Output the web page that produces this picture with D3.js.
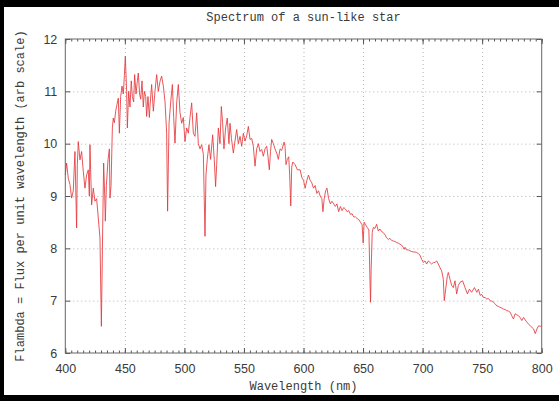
<html>
<head>
<title>Spectrum of a sun-like star</title>
<style>
  body { margin: 0; background: #fff; }
  .tick text { font: 12.5px "Liberation Sans", Arial, sans-serif; fill: #3a3a3a; }
  .lbl { font: 12px "Liberation Mono", "DejaVu Sans Mono", monospace; fill: #3a3a3a; }
  .grid line { stroke: #b4b4b4; stroke-dasharray: 1,3; }
  .grid .domain, .ax .domain { display: none; }
  .ax line { stroke: #555; }
</style>
<script src="https://cdn.jsdelivr.net/npm/d3@7"></script>
</head>
<body>
<div id="chart"></div>
<script>
// wavelength (nm) and flux
var wave = [
  400, 401.1, 402.5, 403.9, 405.3, 406.7, 408.1, 409.5, 410.1, 410.9, 412.3, 413.7, 415.1, 416.5, 417.9,
  419.3, 420.2, 420.7, 422.1, 423.5, 424.9, 426.3, 427.7, 429.1, 430.3, 431.4, 432.2, 433.1, 433.6, 434.5,
  435.9, 437.0, 437.5, 438.4, 439.5, 440.3, 441.2, 442.3, 443.4, 444.5, 445.4, 446.5, 447.6, 448.7, 449.6,
  450.4, 451.5, 452.1, 453.2, 454.3, 455.4, 456.3, 457.4, 458.2, 459.4, 460.5, 461.3, 462.4, 463.3, 464.4,
  465.5, 466.4, 467.5, 468.3, 469.4, 470.6,
  471.1, 472.5, 473.9, 475.3, 476.7, 478.1, 479.5, 480.9, 482.3, 483.7, 485.1, 485.9, 487.1, 488.5, 489.9,
  491.0, 492.1, 493.5, 494.9, 496.3, 497.7, 499.1, 500.5, 501.9, 503.3, 504.7, 506.1, 507.5, 508.9, 510.3,
  511.7, 513.1, 514.5, 515.9, 517.3, 518.1, 519.2, 520.6, 522.0, 523.7, 525.1, 526.2, 527.1, 528.5, 529.9,
  531.0, 532.1, 533.2, 534.6, 536.0, 537.4,
  538.3, 539.5, 541.1, 542.5, 543.9, 545.3, 546.7, 548.1, 549.5, 550.9, 552.3, 553.7, 555.1, 556.5, 557.9,
  559.3, 560.7, 562.1, 563.5, 564.9, 566.3, 567.7, 569.1, 570.2, 571.3, 572.3, 573.3, 574.7, 576.1, 577.5,
  578.9, 580.3,
  581.7, 583.7, 584.5, 585.3, 586.4, 587.6, 588.4, 589.3, 590.1, 591.0, 592.9, 594.9, 597.2, 598.6, 600.0,
  601.4, 602.8, 604.2, 605.6, 607.0, 608.4, 609.8, 611.2, 612.6, 614.0, 615.4, 616.3, 617.4, 618.6, 619.7,
  621.1, 622.5, 623.9, 625.3, 626.7, 628.1, 629.5, 631.0, 632.4, 633.8, 635.2, 636.6, 638.0, 639.4, 640.8,
  642.2, 643.6, 645.0, 646.4, 647.8, 649.2, 650.1, 650.9, 652.1, 653.5, 654.9, 655.7, 656.3, 656.8, 657.7,
  658.6, 660.0, 661.4, 662.8, 664.2, 665.6, 667.0, 668.4, 669.8, 671.2, 672.6, 674.0, 675.4, 676.8, 678.2,
  679.6, 681.0, 682.4, 683.8, 684.5, 685.2, 686.6, 688.0, 689.4, 690.8, 692.2, 693.6, 695.0, 696.4, 697.8,
  699.2, 700.6, 702.0, 703.4, 704.8, 706.2, 707.6, 709.0, 710.4, 711.8, 713.2, 714.6, 716.0, 717.4, 718.2,
  719.4, 720.8, 721.6, 723.0, 724.4, 725.8, 727.2, 728.6, 730.0, 731.4, 733.6, 735.6, 737.6, 739.3, 741.2,
  743.5, 745.5, 746.9, 748.3, 749.7, 751.1, 752.5, 753.9, 755.3, 756.7, 758.1, 759.5, 760.9, 762.3, 763.7,
  765.1, 766.5, 767.9, 769.3, 770.7, 772.1, 773.5, 774.9, 776.3, 777.7, 779.1, 780.5, 781.9, 783.3, 784.8,
  786.2, 787.6, 789.0, 790.4, 791.8, 793.2, 794.6, 796.0, 797.4, 798.8, 800
];
var flux = [
  9.40, 9.63, 9.34, 9.22, 8.96, 9.10, 9.85, 8.39, 9.60, 10.04, 9.69, 9.85, 9.47, 9.15, 9.40,
  9.50, 9.00, 9.98, 8.83, 9.15, 8.90, 8.95, 8.58, 8.20, 6.51, 8.40, 9.63, 9.00, 8.52, 9.20,
  9.70, 9.90, 8.96, 9.20, 10.30, 10.49, 10.40, 10.62, 10.75, 10.87, 10.20, 10.90, 11.10, 10.95, 11.30,
  11.67, 11.00, 10.30, 11.00, 10.70, 11.20, 10.90, 10.80, 11.32, 10.95, 11.20, 11.35, 10.95, 10.85, 11.20,
  10.70, 11.00, 10.90, 10.52, 10.90, 10.50,
  10.71, 11.13, 10.62, 11.00, 11.32, 11.00, 11.19, 11.29, 11.10, 10.81, 10.20, 8.71, 10.39, 10.80, 11.13,
  10.50, 10.01, 10.78, 11.13, 10.60, 10.39, 10.50, 10.04, 10.30, 10.20, 10.50, 10.78, 10.20, 10.14, 10.59,
  10.00, 9.90, 9.98, 9.80, 8.23, 9.40, 9.70, 9.98, 9.70, 10.17, 9.69, 9.18, 9.60, 10.30, 10.00,
  10.71, 10.40, 9.90, 10.30, 10.49, 10.00,
  10.39, 10.10, 9.82, 10.05, 10.27, 10.00, 10.14, 9.95, 10.20, 10.05, 10.15, 10.33, 10.08, 10.10, 9.95,
  9.57, 9.90, 10.00, 9.85, 9.89, 9.76, 9.90, 9.95, 9.75, 9.50, 9.85, 10.08, 10.00, 9.90, 9.82,
  9.70, 9.90,
  9.87, 10.03, 9.95, 9.60, 9.70, 9.75, 9.40, 8.81, 9.55, 9.65, 9.60, 9.50, 9.50, 9.35, 9.30,
  9.15, 9.30, 9.40, 9.30, 9.25, 9.15, 9.20, 9.05, 9.10, 9.00, 8.95, 8.70, 8.95, 9.10, 9.15,
  8.95, 8.85, 8.90, 8.85, 8.80, 8.85, 8.70, 8.80, 8.72, 8.78, 8.75, 8.70, 8.72, 8.65, 8.66,
  8.60, 8.60, 8.57, 8.55, 8.50, 8.45, 8.10, 8.50, 8.45, 8.40, 8.35, 7.50, 6.97, 7.60, 8.30,
  8.40, 8.38, 8.46, 8.33, 8.37, 8.32, 8.30, 8.26, 8.20, 8.17, 8.19, 8.15, 8.14, 8.13, 8.11,
  8.10, 8.08, 8.06, 8.02, 7.98, 8.02, 7.97, 7.97, 7.95, 7.94, 7.93, 7.93, 7.92, 7.90, 7.87,
  7.79, 7.73, 7.76, 7.70, 7.76, 7.73, 7.70, 7.73, 7.73, 7.76, 7.70, 7.63, 7.57, 7.41, 7.00,
  7.22, 7.48, 7.54, 7.41, 7.29, 7.25, 7.38, 7.13, 7.29, 7.35, 7.38, 7.25, 7.13, 7.22, 7.16,
  7.25, 7.16, 7.22, 7.10, 7.12, 7.06, 7.06, 7.03, 7.04, 7.00, 6.99, 6.97, 6.94, 6.90, 6.89,
  6.87, 6.86, 6.84, 6.83, 6.81, 6.80, 6.78, 6.71, 6.65, 6.75, 6.73, 6.71, 6.68, 6.62, 6.68,
  6.63, 6.59, 6.55, 6.52, 6.49, 6.46, 6.37, 6.46, 6.52, 6.51, 6.52
];
var xTicks = [400, 450, 500, 550, 600, 650, 700, 750, 800];
var yTicks = [6, 7, 8, 9, 10, 11, 12];

var W = 559, H = 401;
var L = 65.3, R = 541.7, T = 39, B = 353;

var svg = d3.select('#chart').append('svg')
    .attr('width', W)
    .attr('height', H);

svg.append('rect').attr('width', W).attr('height', H).attr('fill', '#fff');
// dark frame of the screenshot
svg.append('rect').attr('x', 0).attr('y', 0).attr('width', W).attr('height', 7).attr('fill', '#000');
svg.append('rect').attr('x', 0).attr('y', 0).attr('width', 4).attr('height', H).attr('fill', '#000');
svg.append('rect').attr('x', 0).attr('y', 395).attr('width', W).attr('height', H - 395).attr('fill', '#000');

var x = d3.scaleLinear().domain([400, 800]).range([L, R]);
var y = d3.scaleLinear().domain([6, 12]).range([B, T]);

// grid
svg.append('g').attr('class', 'grid')
    .attr('transform', 'translate(0,' + B + ')')
    .call(d3.axisBottom(x).tickValues(xTicks.slice(1, -1)).tickSize(-(B - T)).tickFormat(''));
svg.append('g').attr('class', 'grid')
    .attr('transform', 'translate(' + L + ',0)')
    .call(d3.axisLeft(y).tickValues(yTicks.slice(1, -1)).tickSize(-(R - L)).tickFormat(''));

// spectrum
var line = d3.line()
    .x(function(d, i) { return x(wave[i]); })
    .y(function(d) { return y(d); });

svg.append('path')
    .datum(flux)
    .attr('d', line)
    .attr('fill', 'none')
    .attr('stroke', '#e5373c')
    .attr('stroke-width', 0.85);

// axes, ticks pointing inwards
var minor = d3.range(400, 801, 5);
svg.append('g').attr('class', 'ax')
    .attr('transform', 'translate(0,' + B + ')')
    .call(d3.axisBottom(x).tickValues(minor).tickSize(-2.5).tickFormat(''));
svg.append('g').attr('class', 'ax')
    .attr('transform', 'translate(0,' + T + ')')
    .call(d3.axisTop(x).tickValues(minor).tickSize(-2.5).tickFormat(''));
svg.append('g').attr('class', 'ax')
    .attr('transform', 'translate(0,' + B + ')')
    .call(d3.axisBottom(x).tickValues(xTicks).tickSize(-5).tickPadding(11).tickFormat(d3.format('d')));
svg.append('g').attr('class', 'ax')
    .attr('transform', 'translate(0,' + T + ')')
    .call(d3.axisTop(x).tickValues(xTicks).tickSize(-5).tickFormat(''));
svg.append('g').attr('class', 'ax')
    .attr('transform', 'translate(' + L + ',0)')
    .call(d3.axisLeft(y).tickValues(yTicks).tickSize(-5).tickPadding(8).tickFormat(d3.format('d')));
svg.append('g').attr('class', 'ax')
    .attr('transform', 'translate(' + R + ',0)')
    .call(d3.axisRight(y).tickValues(yTicks).tickSize(-5).tickFormat(''));

svg.append('rect')
    .attr('x', L).attr('y', T)
    .attr('width', R - L).attr('height', B - T)
    .attr('fill', 'none')
    .attr('stroke', '#666')
    .attr('stroke-width', 1);

// labels
svg.append('text').attr('class', 'lbl')
    .attr('x', (L + R) / 2).attr('y', 21)
    .attr('text-anchor', 'middle')
    .text('Spectrum of a sun-like star');
svg.append('text').attr('class', 'lbl')
    .attr('x', (L + R) / 2).attr('y', 390)
    .attr('text-anchor', 'middle')
    .text('Wavelength (nm)');
svg.append('text').attr('class', 'lbl')
    .attr('transform', 'translate(24,' + (T + B) / 2 + ') rotate(-90)')
    .attr('text-anchor', 'middle')
    .text('Flambda = Flux per unit wavelength (arb scale)');
</script>
</body>
</html>
